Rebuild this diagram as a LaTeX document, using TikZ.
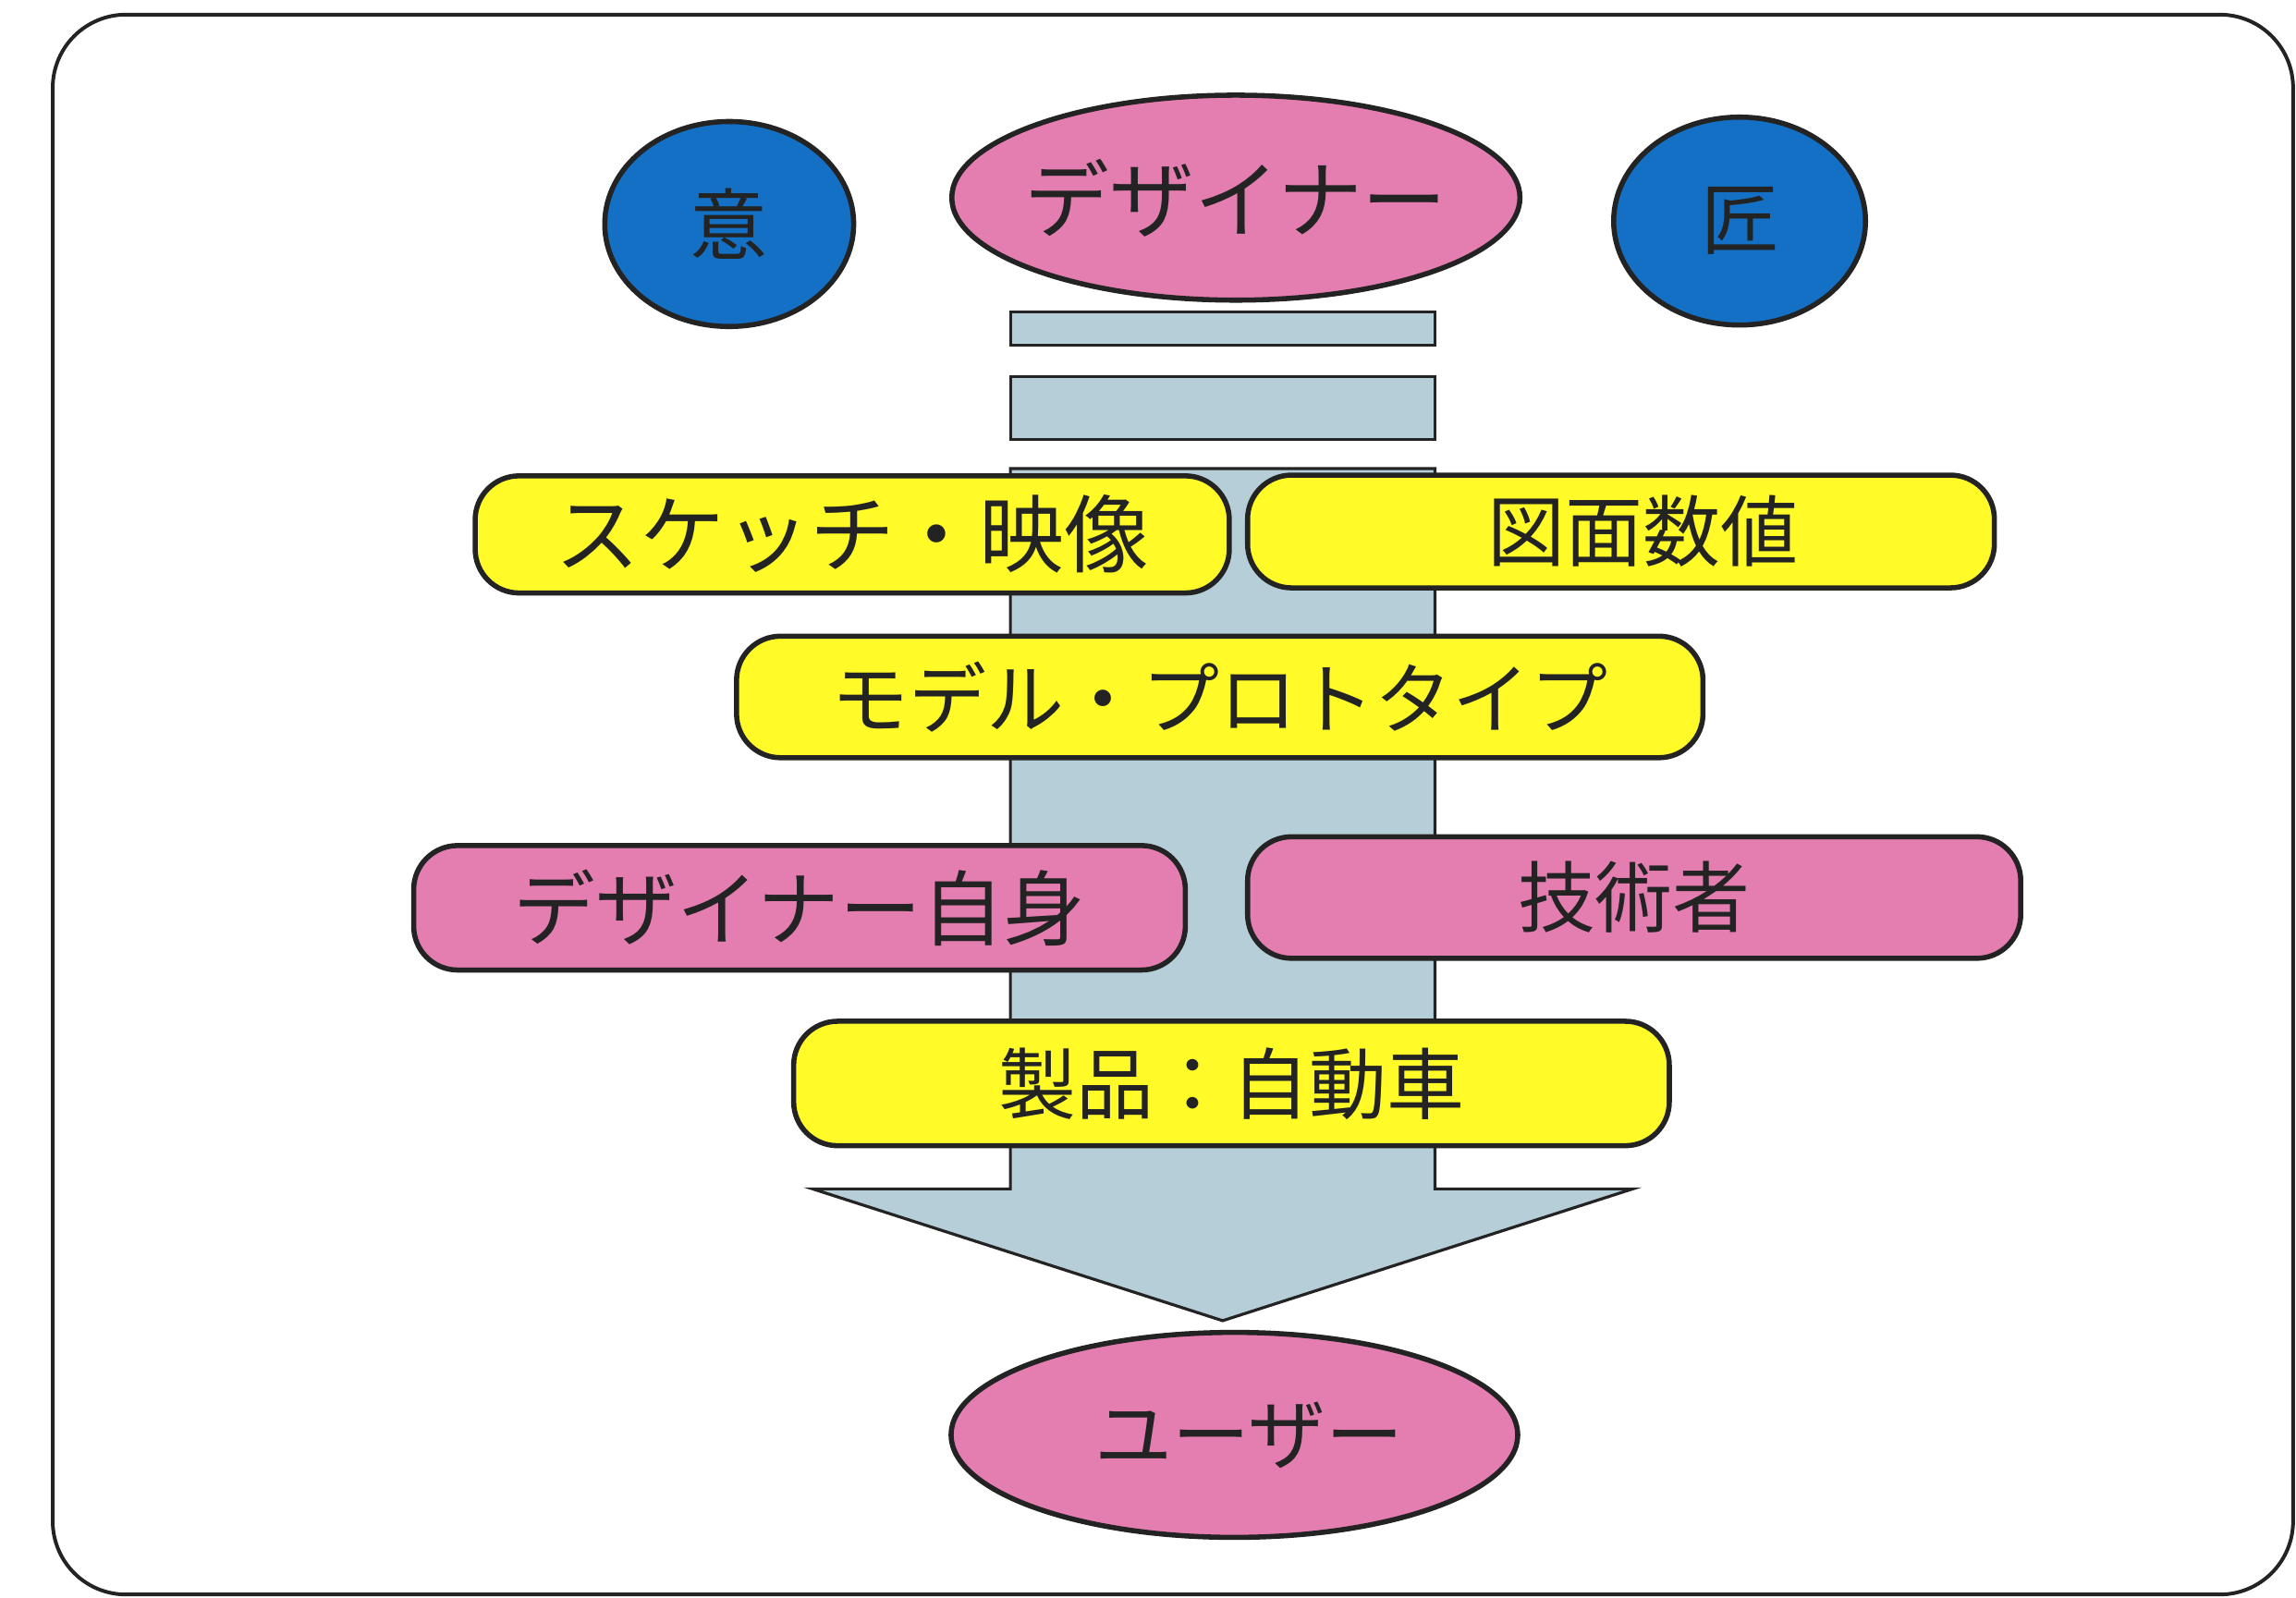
\documentclass[tikz,border=0pt]{standalone}
\usepackage{fontspec}
\newfontfamily\jp{Noto Sans CJK JP}
\usetikzlibrary{shapes.geometric}
\definecolor{pinkf}{RGB}{229,126,176}
\definecolor{bluef}{RGB}{20,112,196}
\definecolor{yellowf}{RGB}{255,250,40}
\definecolor{arrowf}{RGB}{182,206,216}
\definecolor{edge}{RGB}{35,35,35}
\tikzset{
  x=1pt,y=-1pt,
  lbl/.style={font=\jp\fontsize{53}{60}\selectfont, text=edge},
  big/.style={font=\jp\fontsize{58}{64}\selectfont},
  mid/.style={font=\jp\fontsize{56}{62}\selectfont},
  pbox/.style={lbl, draw=edge, line width=3.5pt, rounded corners=30pt, inner sep=0pt},
  ybox/.style={pbox, fill=yellowf},
  kbox/.style={pbox, fill=pinkf},
  oval/.style={lbl, ellipse, draw=edge, line width=3.5pt, inner sep=0pt},
  arrowpart/.style={draw=edge, line width=2pt, fill=arrowf}
}
\begin{document}
\begin{tikzpicture}
\useasboundingbox (0,0) rectangle (1568,1091);
\fill[white] (0,0) rectangle (1568,1091);
% frame
\draw[edge, line width=2.5pt, rounded corners=50pt] (36,10) rectangle (1566,1089);
% arrow
\draw[arrowpart] (690,213) rectangle (980,236);
\draw[arrowpart] (690,257) rectangle (980,300);
\draw[arrowpart] (690,320) -- (980,320) -- (980,812) -- (1115,812) -- (835,902) -- (555,812) -- (690,812) -- cycle;
% ovals
\node[oval, fill=bluef, minimum width=170pt, minimum height=140pt] (i) at (498,153) {意};
\node[oval, big, fill=pinkf, minimum width=388pt, minimum height=140pt] (designer) at (844,135) {\makebox[0pt]{デザイナー}};
\node[oval, fill=bluef, minimum width=172pt, minimum height=142pt] (takumi) at (1188,151) {匠};
% boxes
\node[ybox, big, minimum width=515pt, minimum height=80pt] (sketch) at (582,365) {スケッチ・映像};
\node[ybox, minimum width=510pt, minimum height=77pt] (zumen) at (1107,363) {\hspace*{30pt}図面数値};
\node[ybox, minimum width=660pt, minimum height=83pt] (model) at (833,476) {モデル・プロトタイプ};
\node[kbox, mid, minimum width=527pt, minimum height=85pt] (self) at (546,620) {デザイナー自身};
\node[kbox, minimum width=528pt, minimum height=83pt] (gijutsu) at (1116,613) {技術者};
\node[ybox, minimum width=598pt, minimum height=85pt] (seihin) at (841,740) {製品：自動車};
\node[oval, fill=pinkf, minimum width=387pt, minimum height=140pt] (user) at (843,980) {\hspace*{20pt}ユーザー};
\end{tikzpicture}
\end{document}
